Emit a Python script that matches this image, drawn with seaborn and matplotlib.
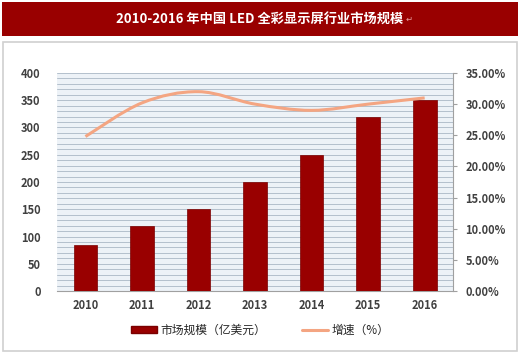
import numpy as np
import pandas as pd
import seaborn as sns
import matplotlib.pyplot as plt
from matplotlib.path import Path
from matplotlib.patches import PathPatch, Rectangle, Patch
from matplotlib.lines import Line2D

years = ['2010', '2011', '2012', '2013', '2014', '2015', '2016']
market = [85, 120, 150, 200, 250, 320, 350]
growth = [24.8, 30.2, 32.0, 30.0, 29.0, 30.0, 31.0]
left_ticks = [0, 50, 100, 150, 200, 250, 300, 350, 400]
right_ticks = [0, 5, 10, 15, 20, 25, 30, 35]

sns.set_style('white')
plt.rcParams['font.family'] = ['Noto Sans CJK SC', 'DejaVu Sans']

df = pd.DataFrame({'year': years, 'market': market, 'growth': growth})

fig = plt.figure(figsize=(5.2, 3.64), dpi=100)
fig.patch.set_facecolor('white')

# title banner and chart frame
fig.patches.append(Rectangle((0.004, 0.9), 0.992, 0.094, transform=fig.transFigure,
                             facecolor='#990000', edgecolor='none', zorder=-2))
fig.patches.append(Rectangle((0.006, 0.035), 0.988, 0.85, transform=fig.transFigure,
                             facecolor='white', edgecolor='#d0d0d0', lw=1.2, zorder=-2))
title = fig.text(0.5, 0.947, '2010-2016 年中国 LED 全彩显示屏行业市场规模', color='white',
                 fontsize=9.5, fontweight='bold', ha='center', va='center')
fig.text(0.5, 0.947, '↵', color='#e8a0a0', fontsize=6, ha='left', va='center',
         family=['DejaVu Sans'])

ax = fig.add_axes([0.110, 0.2005, 0.761, 0.599])
ax.set_facecolor('#edf2f7')
sns.barplot(data=df, x='year', y='market', color='#990000', width=0.42,
            saturation=1, ax=ax, zorder=3, edgecolor='#7a0000', linewidth=0.5)
ax.set_ylim(0, 400)
ax.set_xlim(-0.5, 6.5)
ax.set_yticks(left_ticks)
ax.set_yticks(np.arange(0, 401, 10), minor=True)
ax.grid(axis='y', which='both', color='#b4c0cc', lw=0.7, zorder=0)
ax.set_axisbelow(True)
ax.set_xlabel('')
ax.set_ylabel('')
for s in ['top', 'right', 'left']:
    ax.spines[s].set_visible(False)
ax.spines['bottom'].set_color('#a0a0a0')
ax.tick_params(axis='y', which='both', length=0, pad=12, labelsize=8, labelcolor='#404040')
ax.tick_params(axis='x', length=0, pad=6, labelsize=8, labelcolor='#404040')
for lab in ax.get_xticklabels() + ax.get_yticklabels():
    lab.set_fontweight('bold')

ax2 = ax.twinx()
ax2.set_ylim(0, 35)
# smooth curve through the growth points (Catmull-Rom as bezier)
xs = np.arange(len(years), dtype=float)
ys = np.array(growth)
px = np.concatenate([[xs[0]], xs, [xs[-1]]])
py = np.concatenate([[ys[0]], ys, [ys[-1]]])
verts = [(xs[0], ys[0])]
codes = [Path.MOVETO]
for i in range(1, len(px) - 2):
    c1 = (px[i] + (px[i + 1] - px[i - 1]) / 6, py[i] + (py[i + 1] - py[i - 1]) / 6)
    c2 = (px[i + 1] - (px[i + 2] - px[i]) / 6, py[i + 1] - (py[i + 2] - py[i]) / 6)
    verts += [c1, c2, (px[i + 1], py[i + 1])]
    codes += [Path.CURVE4] * 3
ax2.add_patch(PathPatch(Path(verts, codes), facecolor='none', edgecolor='#f4a582',
                        lw=2.2, zorder=4))
ax2.set_yticks(right_ticks)
ax2.set_yticklabels([f'{v:.2f}%' for v in right_ticks])
for s in ['top', 'left', 'bottom']:
    ax2.spines[s].set_visible(False)
ax2.spines['right'].set_color('#a0a0a0')
ax2.tick_params(axis='y', length=3, color='#a0a0a0', pad=6, labelsize=8, labelcolor='#404040')
for lab in ax2.get_yticklabels():
    lab.set_fontweight('bold')
ax2.set_ylabel('')
ax2.set_xlim(-0.5, 6.5)

# legend
handles = [Patch(facecolor='#990000', edgecolor='#7a0000'),
           Line2D([0], [0], color='#f4a582', lw=2.2)]
fig.legend(handles, ['市场规模（亿美元）', '增速（%）'], loc='center',
           bbox_to_anchor=(0.5, 0.093), ncol=2, frameon=False, fontsize=8.5,
           handlelength=2.2, handleheight=0.5, columnspacing=3, handletextpad=0.3)

# place the paragraph mark just after the title
fig.canvas.draw()
bb = title.get_window_extent().transformed(fig.transFigure.inverted())
fig.texts[-1].set_x(bb.x1 + 0.003)

fig.savefig('out.png', dpi=100)
